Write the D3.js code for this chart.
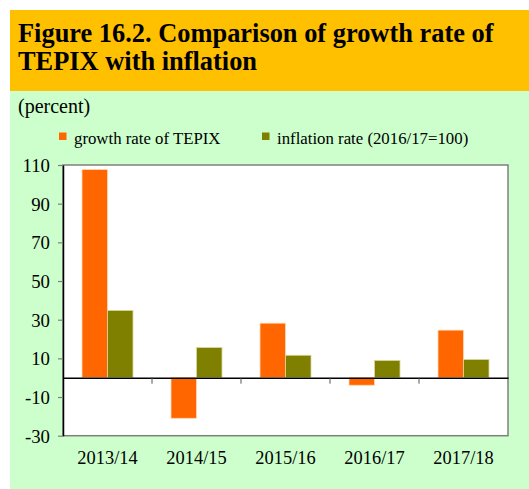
<!DOCTYPE html>
<html><head><meta charset="utf-8">
<script src="https://cdn.jsdelivr.net/npm/d3@7"></script>
<style>html,body{margin:0;padding:0;background:#fff;}svg{display:block;}</style>
</head><body>
<svg id="c" width="529" height="489"></svg>
<script>
const categories = ["2013/14","2014/15","2015/16","2016/17","2017/18"];
const seriesNames = ["growth rate of TEPIX","inflation rate (2016/17=100)"];
const tepix = [107.7, -21.0, 28.2, -3.9, 24.6];
const inflation = [34.8, 15.6, 11.6, 8.9, 9.4];
const yTicks = [-30,-10,10,30,50,70,90,110];
const colors = ["#FF6600","#808000"];

const svg = d3.select("#c");
const serif = "'Liberation Serif','Times New Roman',serif";

// backgrounds
svg.append("rect").attr("x",10).attr("y",91).attr("width",519).attr("height",398).attr("fill","#CCFFCC");
svg.append("rect").attr("x",10).attr("y",10).attr("width",519).attr("height",81).attr("fill","#FFC000");

const title = svg.append("text").attr("font-family",serif).attr("font-weight","bold").attr("font-size",26.4).attr("fill","#000");
title.append("tspan").attr("x",18).attr("y",42).text("Figure 16.2. Comparison of growth rate of");
title.append("tspan").attr("x",18).attr("y",70).text("TEPIX with inflation");

svg.append("text").attr("x",18).attr("y",113).attr("font-family",serif).attr("font-size",20).text("(percent)");

// legend
const legX = [59, 262];
seriesNames.forEach((n,i)=>{
  svg.append("rect").attr("x",legX[i]).attr("y",132.5).attr("width",7.5).attr("height",7.5).attr("fill",colors[i]);
  svg.append("text").attr("x",legX[i]+15).attr("y",143.5).attr("font-family",serif).attr("font-size",16.8).text(n);
});

const L=63, R=508, T=165, B=435.7;
const x = d3.scaleBand().domain(categories).range([L,R]).padding(0);
const y = d3.scaleLinear().domain([-30,110]).range([B,T]);
const inner = d3.scaleBand().domain([0,1]).range([0,51]);

svg.append("rect").attr("x",L).attr("y",T).attr("width",R-L).attr("height",B-T).attr("fill","#fff")
  .attr("stroke","#7f7f7f").attr("stroke-width",1.5);

const data = [tepix, inflation];
categories.forEach((c,ci)=>{
  data.forEach((s,si)=>{
    const v = s[ci];
    svg.append("rect")
      .attr("x", x(c) + (x.bandwidth()-51)/2 + inner(si))
      .attr("y", y(Math.max(0,v)))
      .attr("width", inner.bandwidth())
      .attr("height", Math.abs(y(v)-y(0)))
      .attr("fill", colors[si])
      .attr("stroke", si===0 ? "#ffd9b3" : "#d9d9a0")
      .attr("stroke-width", 0.8);
  });
});

// y axis
const yAxis = d3.axisLeft(y).tickValues(yTicks).tickSize(5).tickSizeOuter(0).tickFormat(d=>String(d));
const ya = svg.append("g").attr("transform",`translate(${L},0)`).call(yAxis);
ya.select(".domain").attr("stroke","#000").attr("stroke-width",1.5);
ya.selectAll(".tick line").attr("stroke","#7f7f7f").attr("stroke-width",1.2);
ya.selectAll(".tick text").attr("font-family",serif).attr("font-size",18.8).attr("fill","#000").attr("x",-13).attr("dy","0.34em");

// zero line with category ticks
const xAxis = d3.axisBottom(x).tickSize(0).tickSizeOuter(0);
const xa = svg.append("g").attr("transform",`translate(0,${y(0)})`).call(xAxis);
xa.select(".domain").attr("stroke","#000").attr("stroke-width",1.5);
xa.selectAll(".tick text").remove();
categories.slice(1).forEach(c=>{
  svg.append("line").attr("x1",x(c)).attr("x2",x(c)).attr("y1",y(0)).attr("y2",y(0)+6)
    .attr("stroke","#555").attr("stroke-width",1);
});
categories.forEach(c=>{
  svg.append("text").attr("x",x(c)+x.bandwidth()/2).attr("y",464).attr("text-anchor","middle")
    .attr("font-family",serif).attr("font-size",18.4).text(c);
});
</script>
</body></html>
